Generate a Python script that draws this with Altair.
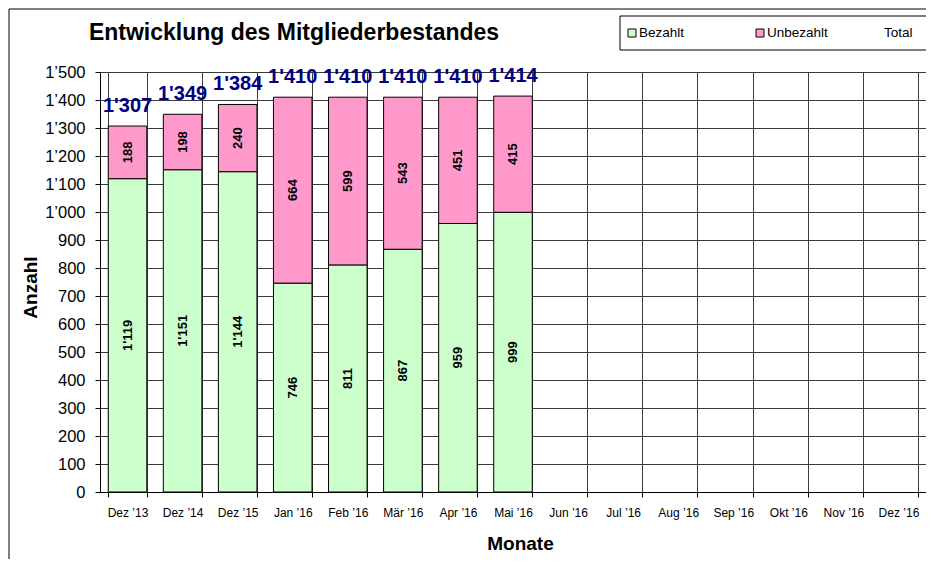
import altair as alt
import pandas as pd

months = ["Dez ’13", "Dez ’14", "Dez ’15", "Jan ’16", "Feb ’16", "Mär ’16", "Apr ’16",
          "Mai ’16", "Jun ’16", "Jul ’16", "Aug ’16", "Sep ’16", "Okt ’16", "Nov ’16", "Dez ’16"]
bezahlt = [1119, 1151, 1144, 746, 811, 867, 959, 999]
unbezahlt = [188, 198, 240, 664, 599, 543, 451, 415]
total = [1307, 1349, 1384, 1410, 1410, 1410, 1410, 1414]
series = ["Bezahlt", "Unbezahlt", "Total"]
colors = ["#CCFFCC", "#FF99CC"]
y_ticks = list(range(0, 1501, 100))

FONT = "Liberation Sans"
GRID = "#3a3a3a"

def fmt(v):
    return f"{v:,}".replace(",", "'")

rows = []
for i, m in enumerate(months[:len(bezahlt)]):
    rows.append({"month": m, "series": series[0], "value": bezahlt[i], "ord": 0, "label": fmt(bezahlt[i])})
    rows.append({"month": m, "series": series[1], "value": unbezahlt[i], "ord": 1, "label": fmt(unbezahlt[i])})
long = pd.DataFrame(rows)
tot = pd.DataFrame({"month": months[:len(total)], "total": total,
                    "label": [fmt(v) for v in total]})

x_scale = alt.Scale(domain=months, paddingInner=0.3, paddingOuter=0.15)
x_axis = alt.Axis(title="Monate", labelAngle=0, labelFontSize=12, labelFont=FONT,
                  labelColor="black", tickBand="extent", grid=True, gridColor=GRID,
                  gridOpacity=1, tickColor="black", tickSize=5, domainColor="black",
                  labelPadding=10, labelOverlap=False, titleFont=FONT, titleFontSize=19,
                  titleFontWeight="bold", titleColor="black", titleX=420, titleY=51,
                  titleBaseline="middle", titleAlign="center")
y_scale = alt.Scale(domain=[0, 1500], nice=False)
y_axis = alt.Axis(title="Anzahl", values=y_ticks, tickCount=16,
                  labelExpr="replace(format(datum.value, ','), ',', '’')",
                  labelFontSize=16.5, labelFont=FONT, labelColor="black", grid=True,
                  gridColor=GRID, gridOpacity=1, tickColor="black", tickSize=5,
                  domainColor="black", labelPadding=10, labelOverlap=False,
                  titleFont=FONT, titleFontSize=19,
                  titleFontWeight="bold", titleColor="black", titleX=-70, titleY=215,
                  titleBaseline="middle", titleAlign="center", titleAngle=270)

def xenc():
    return alt.X("month:N", sort=months, scale=x_scale, axis=x_axis)

bars = alt.Chart(long).mark_bar(stroke="black", strokeWidth=1).encode(
    x=xenc(),
    y=alt.Y("value:Q", stack="zero", scale=y_scale, axis=y_axis),
    color=alt.Color("series:N", scale=alt.Scale(domain=series[:2], range=colors), legend=None),
    order=alt.Order("ord:Q"),
)

seg_labels = alt.Chart(long).transform_stack(
    stack="value", groupby=["month"], as_=["y0", "y1"], sort=[alt.SortField("ord")]
).transform_calculate(mid="(datum.y0 + datum.y1) / 2").mark_text(
    angle=270, fontSize=13, fontWeight="bold", font=FONT, color="black",
    align="center", baseline="middle"
).encode(
    x=xenc(),
    y=alt.Y("mid:Q", scale=y_scale, axis=y_axis),
    text="label:N",
)

tot_labels = alt.Chart(tot).mark_text(
    fontSize=20, fontWeight="bold", font=FONT, color="#000080",
    align="center", baseline="bottom", dy=-10
).encode(
    x=xenc(),
    y=alt.Y("total:Q", scale=y_scale, axis=y_axis),
    text="label:N",
)

one = pd.DataFrame({"a": [0]})

title = alt.Chart(one).mark_text(
    fontSize=23, fontWeight="bold", font=FONT, color="black", align="center", baseline="middle"
).encode(x=alt.value(194), y=alt.value(-39), text=alt.value("Entwicklung des Mitgliederbestandes"))

frame_left = alt.Chart(one).mark_rule(color="black", strokeWidth=1).encode(
    x=alt.value(-91), y=alt.value(-63), y2=alt.value(490))
frame_top = alt.Chart(one).mark_rule(color="black", strokeWidth=1).encode(
    x=alt.value(-91), x2=alt.value(840), y=alt.value(-63))

legend_box = alt.Chart(one).mark_rect(fill="white", stroke="black", strokeWidth=1).encode(
    x=alt.value(520), x2=alt.value(840), y=alt.value(-56), y2=alt.value(-22))

legend_layers = [legend_box]
starts = [528, 656, 784]
for k, name in enumerate(series):
    sx = starts[k]
    if k < len(colors):
        legend_layers.append(alt.Chart(one).mark_rect(fill=colors[k], stroke="black", strokeWidth=1).encode(
            x=alt.value(sx), x2=alt.value(sx + 8), y=alt.value(-43), y2=alt.value(-35)))
        tx = sx + 11
    else:
        tx = sx
    legend_layers.append(alt.Chart(one).mark_text(
        fontSize=13.5, font=FONT, color="black", align="left", baseline="middle"
    ).encode(x=alt.value(tx), y=alt.value(-39), text=alt.value(name)))

chart = alt.layer(
    bars, seg_labels, tot_labels, title, frame_left, frame_top, *legend_layers
).properties(
    width=826, height=420,
    padding={"left": 92, "top": 64, "right": 0, "bottom": 67},
    autosize=alt.AutoSizeParams(type="none"),
    background="white",
).configure_view(stroke=None)

chart.save("out.html", embed_options={"renderer": "svg", "actions": False})
